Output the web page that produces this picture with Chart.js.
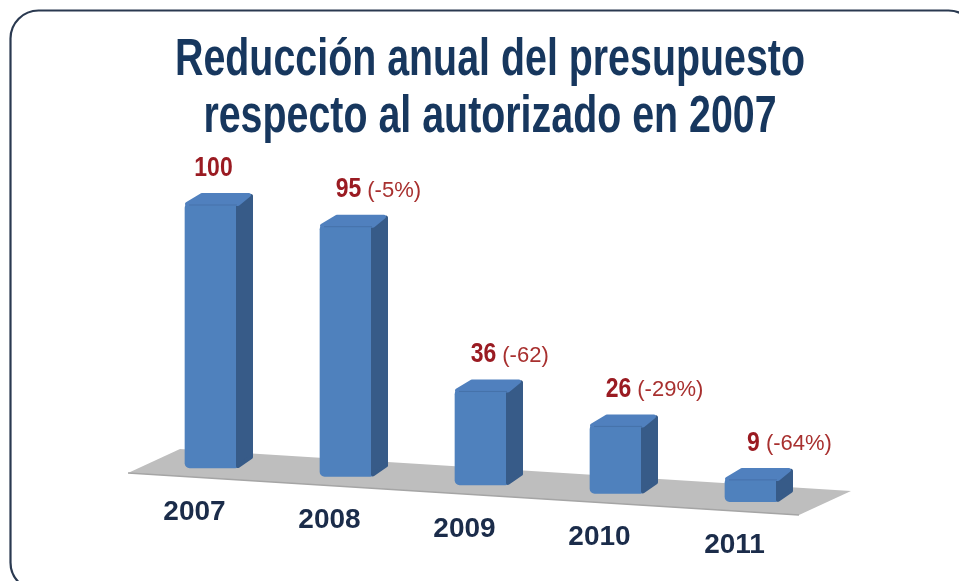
<!DOCTYPE html>
<html>
<head>
<meta charset="utf-8">
<script src="https://cdn.jsdelivr.net/npm/chart.js@4/dist/chart.umd.min.js"></script>
<style>
  html, body { margin: 0; padding: 0; background: #ffffff; }
  #wrap { width: 959px; height: 581px; position: relative; }
  canvas { display: block; }
</style>
</head>
<body>
<div id="wrap"><canvas id="c" width="959" height="581"></canvas></div>
<script>
// ---- data ----
const titleLines = ['Reducción anual del presupuesto', 'respecto al autorizado en 2007'];
const categories = ['2007', '2008', '2009', '2010', '2011'];
const values = [100, 95, 36, 26, 9];
const changeLabels = ['', '(-5%)', '(-62)', '(-29%)', '(-64%)'];

// ---- style constants ----
const SLOPE = 0.0625;          // perspective slope of the floor
const DEPTH_X = 15, DEPTH_Y = -10;
const FRONT = '#4F81BD', SIDE = '#375B88', ROOF = '#5080BE';

function drawScaledText(ctx, text, x, y, font, color, align, sx) {
  ctx.save();
  ctx.font = font;
  ctx.fillStyle = color;
  ctx.textBaseline = 'middle';
  const w = ctx.measureText(text).width * sx;
  let left = x;
  if (align === 'center') left = x - w / 2;
  else if (align === 'right') left = x - w;
  ctx.translate(left, y);
  ctx.scale(sx, 1);
  ctx.textAlign = 'left';
  ctx.fillText(text, 0, 0);
  ctx.restore();
  return w;
}

const perspective = {
  id: 'perspective',
  afterDatasetsUpdate(chart) {
    const meta = chart.getDatasetMeta(0);
    const x0 = meta.data[0].x;
    meta.data.forEach(el => {
      const d = SLOPE * (el.x - x0);
      el.y += d;
      el.base += d;
    });
  },
  beforeDraw(chart) {
    const ctx = chart.ctx;
    ctx.save();
    ctx.fillStyle = '#ffffff';
    ctx.fillRect(0, 0, chart.width, chart.height);
    // frame
    ctx.beginPath();
    ctx.roundRect(10.5, 10.5, 966, 580, 28);
    ctx.lineWidth = 2.2;
    ctx.strokeStyle = '#2a3950';
    ctx.stroke();
    // title
    const tf = 'bold 51px "Liberation Sans", Arial, sans-serif';
    ctx.font = tf;
    const w1 = ctx.measureText(titleLines[0]).width;
    const sx = 630 / w1;
    const cx = 490;
    drawScaledText(ctx, titleLines[0], cx, 61, tf, '#17375E', 'center', sx);
    drawScaledText(ctx, titleLines[1], cx, 118, tf, '#17375E', 'center', sx);
    ctx.restore();
  },
  beforeDatasetsDraw(chart) {
    const ctx = chart.ctx;
    const meta = chart.getDatasetMeta(0);
    const first = meta.data[0], last = meta.data[meta.data.length - 1];
    const fl = { x: first.x - 83.5, y: first.base + 5 };
    const frX = last.x + 47.5;
    const fr = { x: frX, y: fl.y + SLOPE * (frX - fl.x) };
    const dvx = 52, dvy = -24;
    ctx.save();
    ctx.beginPath();
    ctx.moveTo(fl.x, fl.y);
    ctx.lineTo(fr.x, fr.y);
    ctx.lineTo(fr.x + dvx, fr.y + dvy);
    ctx.lineTo(fl.x + dvx, fl.y + dvy);
    ctx.closePath();
    ctx.fillStyle = '#BEBEBE';
    ctx.fill();
    ctx.beginPath();
    ctx.moveTo(fl.x, fl.y);
    ctx.lineTo(fr.x, fr.y);
    ctx.strokeStyle = '#A5A5A5';
    ctx.lineWidth = 1.5;
    ctx.stroke();
    ctx.restore();
  },
  afterDatasetsDraw(chart) {
    const ctx = chart.ctx;
    const meta = chart.getDatasetMeta(0);
    meta.data.forEach((el, i) => {
      const hw = el.width / 2;
      const xl = el.x - hw, xr = el.x + hw;
      ctx.save();
      ctx.lineJoin = 'round';
      // side face
      ctx.beginPath();
      ctx.moveTo(xr, el.y + 2);
      ctx.lineTo(xr + DEPTH_X - 2, el.y + DEPTH_Y + 3);
      ctx.lineTo(xr + DEPTH_X - 2, el.base + DEPTH_Y - 1);
      ctx.lineTo(xr, el.base - 2);
      ctx.closePath();
      ctx.fillStyle = SIDE;
      ctx.strokeStyle = SIDE;
      ctx.lineWidth = 4;
      ctx.fill();
      ctx.stroke();
      // roof
      ctx.beginPath();
      ctx.moveTo(xl + 2, el.y + 1);
      ctx.lineTo(xl + DEPTH_X + 2, el.y + DEPTH_Y + 2);
      ctx.lineTo(xr + DEPTH_X - 4, el.y + DEPTH_Y + 2);
      ctx.lineTo(xr, el.y + 1);
      ctx.closePath();
      ctx.fillStyle = ROOF;
      ctx.strokeStyle = ROOF;
      ctx.lineWidth = 4;
      ctx.fill();
      ctx.stroke();
      // subtle edge between roof and front
      ctx.beginPath();
      ctx.moveTo(xl + 4, el.y + 2);
      ctx.lineTo(xr - 1, el.y + 2);
      ctx.strokeStyle = 'rgba(40,70,110,0.25)';
      ctx.lineWidth = 1;
      ctx.stroke();
      ctx.restore();

      // value labels
      const ly = el.y - 35;
      const numFont = 'bold 28px "Liberation Sans", Arial, sans-serif';
      ctx.save();
      ctx.font = numFont;
      const nw = ctx.measureText(String(values[i])).width * 0.82;
      ctx.restore();
      const nx = el.x + 2 - nw / 2;
      drawScaledText(ctx, String(values[i]), nx, ly, numFont, '#9A1B22', 'left', 0.82);
      if (changeLabels[i]) {
        drawScaledText(ctx, changeLabels[i], nx + nw + 6, ly + 1, '22px "Liberation Sans", Arial, sans-serif', '#A8302F', 'left', 1);
      }

      // category labels
      drawScaledText(ctx, chart.data.labels[i], el.x - 17, el.base + 44,
        'bold 28px "Liberation Sans", Arial, sans-serif', '#1B2C4A', 'center', 1);
    });
  }
};

new Chart(document.getElementById('c'), {
  type: 'bar',
  data: {
    labels: categories,
    datasets: [{
      data: values,
      backgroundColor: FRONT,
      barThickness: 53,
      borderRadius: { topLeft: 5, topRight: 0, bottomLeft: 5, bottomRight: 3 },
      borderSkipped: false,
      clip: false
    }]
  },
  options: {
    responsive: false,
    animation: false,
    events: [],
    layout: { padding: { left: 144, right: 140, top: 203, bottom: 113 } },
    scales: {
      x: { display: false },
      y: { display: false, min: 0, max: 100 }
    },
    plugins: {
      legend: { display: false },
      tooltip: { enabled: false },
      title: { display: false }
    }
  },
  plugins: [perspective]
});
</script>
</body>
</html>
